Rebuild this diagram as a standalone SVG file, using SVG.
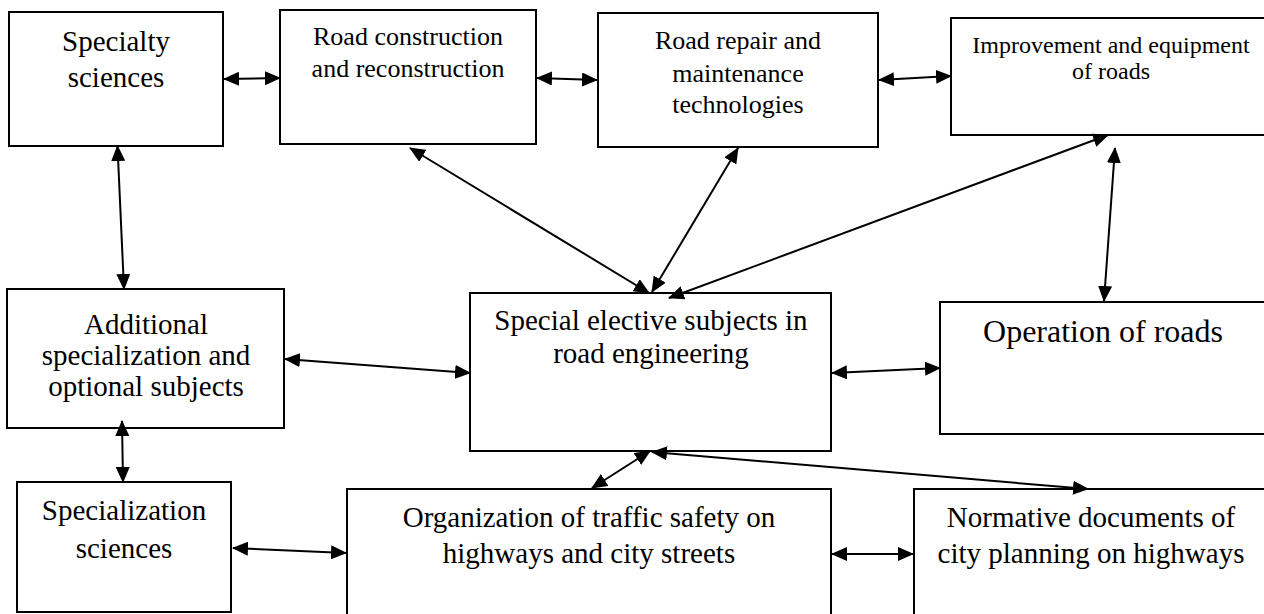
<svg xmlns="http://www.w3.org/2000/svg" width="1264" height="614" viewBox="0 0 1264 614">
<defs>
<style>
.box{fill:#fff;stroke:#000;stroke-width:2}
.t{font-family:"Liberation Serif","Times New Roman",serif;fill:#000;text-anchor:middle}
.c{fill:none;stroke:#000;stroke-width:2;marker-start:url(#ah);marker-end:url(#ah)}
</style>
<marker id="ah" markerUnits="userSpaceOnUse" markerWidth="16" markerHeight="14" refX="15" refY="7" orient="auto-start-reverse" viewBox="0 0 16 14">
<path d="M0,0 L16,7 L0,14 z" fill="#000"/>
</marker>
</defs>
<rect width="1264" height="614" fill="#fff"/>
<g id="n-specialty"><rect class="box" x="9" y="12" width="214" height="134"/>
<text class="t" font-size="29" x="116" y="51">Specialty</text><text class="t" font-size="29" x="116" y="87">sciences</text></g>
<g id="n-roadcon"><rect class="box" x="280" y="10" width="256" height="134"/>
<text class="t" font-size="26" x="408" y="45">Road construction</text><text class="t" font-size="26" x="408" y="77">and reconstruction</text></g>
<g id="n-repair"><rect class="box" x="598" y="13" width="280" height="134"/>
<text class="t" font-size="26" x="738" y="49">Road repair and</text><text class="t" font-size="26" x="738" y="82">maintenance</text><text class="t" font-size="26" x="738" y="113">technologies</text></g>
<g id="n-improvement"><rect class="box" x="951" y="18" width="330" height="117"/>
<text class="t" font-size="24" x="1111" y="53">Improvement and equipment</text><text class="t" font-size="24" x="1111" y="79">of roads</text></g>
<g id="n-additional"><rect class="box" x="7" y="289" width="277" height="139"/>
<text class="t" font-size="29" x="146" y="334">Additional</text><text class="t" font-size="29" x="146" y="365">specialization and</text><text class="t" font-size="29" x="146" y="396">optional subjects</text></g>
<g id="n-special"><rect class="box" x="470" y="293" width="361" height="158"/>
<text class="t" font-size="29" x="651" y="330">Special elective subjects in</text><text class="t" font-size="29" x="651" y="363">road engineering</text></g>
<g id="n-operation"><rect class="box" x="940" y="302" width="340" height="132"/>
<text class="t" font-size="32" x="1103" y="342">Operation of roads</text></g>
<g id="n-specialization"><rect class="box" x="17" y="482" width="214" height="130"/>
<text class="t" font-size="29" x="124" y="520">Specialization</text><text class="t" font-size="29" x="124" y="558">sciences</text></g>
<g id="n-organization"><rect class="box" x="347" y="489" width="484" height="140"/>
<text class="t" font-size="29" x="589" y="527">Organization of traffic safety on</text><text class="t" font-size="29" x="589" y="563">highways and city streets</text></g>
<g id="n-normative"><rect class="box" x="914" y="489" width="360" height="140"/>
<text class="t" font-size="29" x="1091" y="527">Normative documents of</text><text class="t" font-size="29" x="1091" y="563">city planning on highways</text></g>
<g id="connectors">
<line class="c" x1="224" y1="79" x2="280" y2="78"/>
<line class="c" x1="537" y1="78" x2="597" y2="80"/>
<line class="c" x1="879" y1="80" x2="951" y2="76"/>
<line class="c" x1="117.5" y1="146" x2="124" y2="289"/>
<line class="c" x1="410" y1="148" x2="649" y2="293"/>
<line class="c" x1="738" y1="148" x2="652" y2="292"/>
<line class="c" x1="1108" y1="135" x2="669" y2="298"/>
<line class="c" x1="1115" y1="148" x2="1104" y2="301"/>
<line class="c" x1="285" y1="359" x2="470" y2="373"/>
<line class="c" x1="832" y1="373" x2="940" y2="368"/>
<line class="c" x1="122" y1="421" x2="123" y2="482"/>
<line class="c" x1="233" y1="548" x2="346" y2="553"/>
<line class="c" x1="650" y1="451" x2="592" y2="488"/>
<line class="c" x1="652" y1="452" x2="1088" y2="489"/>
<line class="c" x1="832" y1="554" x2="913" y2="554"/>
</g>
</svg>
